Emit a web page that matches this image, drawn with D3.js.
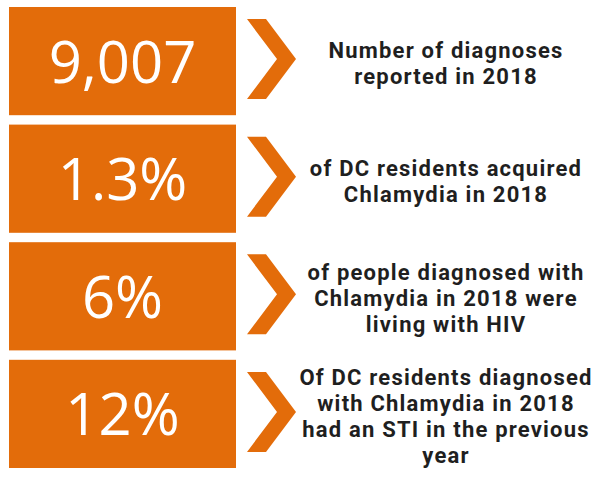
<!DOCTYPE html>
<html>
<head>
    <meta http-equiv="content-type" content="text/html; charset=utf-8">
    <script type="text/javascript" src="https://cdn.jsdelivr.net/npm/d3@7"></script>
    <style>
        body { margin: 0; background: #fff; }
        .stat { font-family: 'Open Sans', sans-serif; fill: #fff; }
        .desc { font-family: Roboto, sans-serif; font-weight: bold; fill: #1f1f1f; letter-spacing: 1.2px; }
    </style>
</head>
<body>
<div class='chart'></div>
<script type="text/javascript">
var width = 605,
    height = 483;

// ======================
// data
// ======================
var keys = ['diagnoses', 'residents', 'hiv', 'priorSti'];
var stats = ['9,007', '1.3%', '6%', '12%'];
var descriptions = [
    ['Number of diagnoses', 'reported in 2018'],
    ['of DC residents acquired', 'Chlamydia in 2018'],
    ['of people diagnosed with', 'Chlamydia in 2018 were', 'living with HIV'],
    ['Of DC residents diagnosed', 'with Chlamydia in 2018', 'had an STI in the previous', 'year']
];

var orange = '#e36c0a';

// ======================
// scales
// ======================
var y = d3.scaleBand()
        .domain(keys)
        .range([7, 468])
        .paddingInner(0.08);

var boxX = d3.scaleLinear().domain([0, 1]).range([9, 236]);
var chevX = d3.scaleLinear().domain([0, 1]).range([247, 296]);

var svg = d3.select('.chart')
        .append('svg')
        .attr('width', width)
        .attr('height', height);

var rows = svg.selectAll('g.row')
        .data(keys)
        .enter()
        .append('g')
        .attr('class', 'row')
        .attr('transform', function (d) { return 'translate(0,' + y(d) + ')'; });

// orange box
rows.append('rect')
        .attr('x', boxX(0))
        .attr('width', boxX(1) - boxX(0))
        .attr('height', y.bandwidth())
        .attr('fill', orange);

// big number
rows.append('text')
        .attr('class', 'stat')
        .attr('x', (boxX(0) + boxX(1)) / 2)
        .attr('y', y.bandwidth() / 2)
        .attr('dy', '0.37em')
        .attr('text-anchor', 'middle')
        .style('font-size', '58px')
        .text(function (d, i) { return stats[i]; });

// chevron
var chevH = 80, thick = 19;
rows.append('path')
        .attr('fill', orange)
        .attr('d', function () {
            var m = y.bandwidth() / 2 - 2;
            var x0 = chevX(0), x1 = chevX(1);
            return 'M' + x0 + ',' + (m - chevH / 2)
                + 'L' + (x0 + thick) + ',' + (m - chevH / 2)
                + 'L' + x1 + ',' + m
                + 'L' + (x0 + thick) + ',' + (m + chevH / 2)
                + 'L' + x0 + ',' + (m + chevH / 2)
                + 'L' + (x1 - thick) + ',' + m + 'Z';
        });

// description, one text per line
var lineH = 26;
rows.each(function (d, i) {
    var lines = descriptions[i];
    var top = y.bandwidth() / 2 - (lines.length - 1) * lineH / 2 + 10;
    d3.select(this).selectAll('text.desc')
            .data(lines)
            .enter()
            .append('text')
            .attr('class', 'desc')
            .attr('text-anchor', 'middle')
            .style('font-size', '22px')
            .attr('x', 446)
            .attr('y', function (l, j) { return top + j * lineH; })
            .text(function (l) { return l; });
});
</script>
</body>
</html>
